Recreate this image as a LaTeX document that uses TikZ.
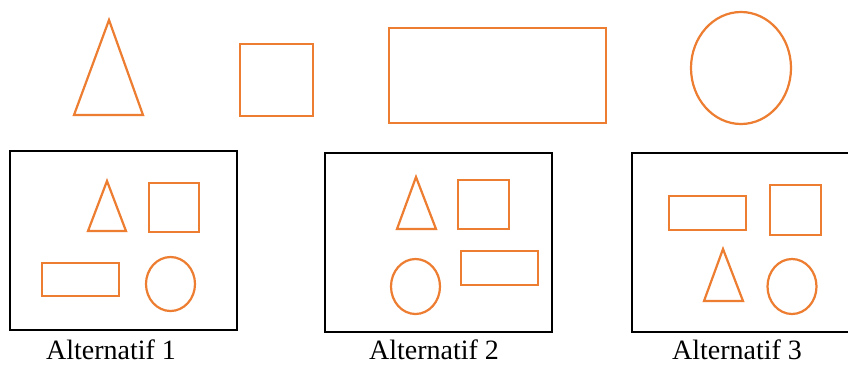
\documentclass[tikz,border=0pt]{standalone}
\usepackage{fontspec}
\setmainfont{Liberation Serif}
\definecolor{shapeorange}{HTML}{ED7D31}
\tikzset{
  shp/.style={draw=shapeorange, line width=2.2pt, line join=miter},
  shpthick/.style={draw=shapeorange, line width=2.8pt},
  frame/.style={draw=black, line width=1.7pt},
  caption/.style={font=\fontsize{28}{32}\selectfont, anchor=base, inner sep=0pt, text depth=0pt}
}
\begin{document}
\begin{tikzpicture}[x=1pt, y=-1pt]
\useasboundingbox (0,0) rectangle (848,365);
\clip (0,0) rectangle (848,365);
\fill[white] (0,0) rectangle (848,365);

% the four shapes on their own
\draw[shp] (109,20) -- (143,115) -- (74,115) -- cycle;
\draw[shp] (240,44) rectangle (313,116);
\draw[shpthick] (389,28) rectangle (606,123);
\draw[shp] (741,68) ellipse [x radius=50, y radius=56];

% alternative 1
\draw[frame] (10,151) rectangle (237,330);
\draw[shp] (107,181) -- (126,231) -- (88,231) -- cycle;
\draw[shp] (149,183) rectangle (199,232);
\draw[shpthick] (42,263) rectangle (119,296);
\draw[shp] (170.5,284) ellipse [x radius=24.5, y radius=27];
\node[caption] (c1) at (111,359.5) {Alternatif 1};

% alternative 2
\draw[frame] (325,153) rectangle (552,332);
\draw[shp] (416,177) -- (436,229) -- (397,229) -- cycle;
\draw[shp] (458,180) rectangle (509,229);
\draw[shpthick] (461,251) rectangle (538,285);
\draw[shp] (415.5,286.5) ellipse [x radius=24.5, y radius=27.5];
\node[caption] (c2) at (434,359.5) {Alternatif 2};

% alternative 3
\draw[frame] (632,153) rectangle (856,332);
\draw[shpthick] (669,196) rectangle (746,230);
\draw[shp] (770,185) rectangle (821,235);
\draw[shp] (723,249) -- (743,301) -- (704,301) -- cycle;
\draw[shp] (792,286.5) ellipse [x radius=24.5, y radius=27.5];
\node[caption] (c3) at (737,359.5) {Alternatif 3};
\end{tikzpicture}
\end{document}
